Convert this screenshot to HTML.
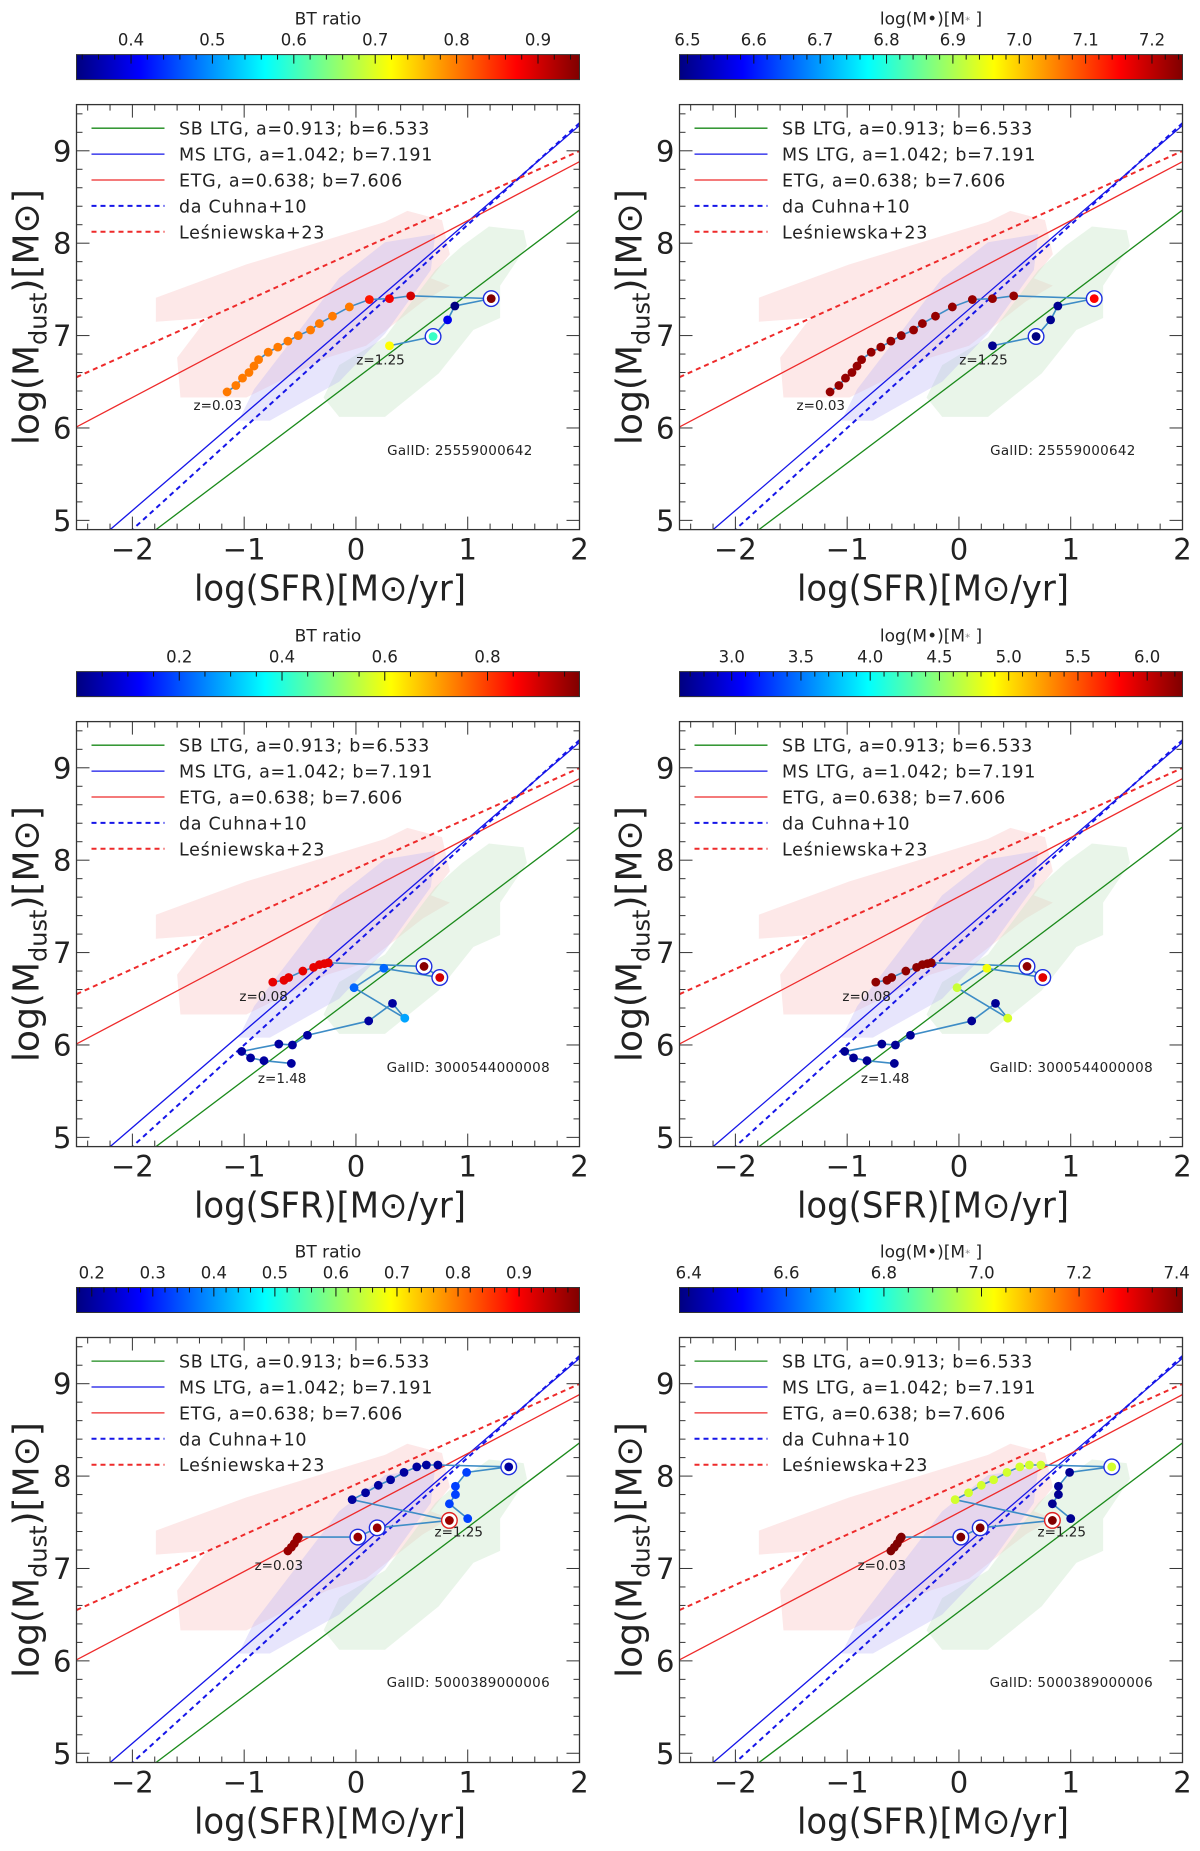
<!DOCTYPE html>
<html><head><meta charset="utf-8"><style>
html,body{margin:0;padding:0;background:#fff;}
svg text{font-family:"DejaVu Sans","Liberation Sans",sans-serif;fill:#222;}
</style></head><body>
<svg id="fig" xmlns="http://www.w3.org/2000/svg" width="1200" height="1846" viewBox="0 0 1200 1846"></svg>
<script>
// ---- data ----
const xTicks = [-2, -1, 0, 1, 2];
const yTicks = [5, 6, 7, 8, 9];
const fitA = [0.913, 1.042, 0.638];
const fitB = [6.533, 7.191, 7.606];
const fitNames = ["SB LTG, a=0.913; b=6.533", "MS LTG, a=1.042; b=7.191", "ETG, a=0.638; b=7.606", "da Cuhna+10", "Leśniewska+23"];
const litA = [1.1, 0.544];
const litB = [7.1, 7.91];

const sfr1 = [-1.153,-1.074,-1.015,-0.957,-0.912,-0.871,-0.785,-0.699,-0.609,-0.516,-0.406,-0.327,-0.21,-0.059,0.12,0.30,0.49,1.21,0.885,0.82,0.69,0.30];
const md1 = [6.39,6.46,6.54,6.60,6.67,6.74,6.82,6.875,6.94,7.0,7.06,7.13,7.21,7.31,7.39,7.40,7.43,7.40,7.32,7.17,6.99,6.89];
const bt1 = [0.8,0.8,0.8,0.8,0.8,0.8,0.8,0.8,0.8,0.8,0.8,0.8,0.8,0.8,0.86,0.88,0.9,0.95,0.33,0.4,0.6,0.72];
const bh1 = [7.23,7.23,7.23,7.23,7.23,7.23,7.23,7.23,7.23,7.23,7.23,7.23,7.23,7.23,7.23,7.23,7.23,7.15,6.5,6.5,6.49,6.5];
const ring1 = [17, 20];
const ringCol1 = ["#1f2fe0", "#1f2fe0"];

const sfr2 = [-0.744,-0.644,-0.602,-0.475,-0.379,-0.327,-0.282,-0.248,0.609,0.75,0.25,-0.017,0.437,0.327,0.114,-0.434,-0.568,-0.69,-1.022,-0.943,-0.823,-0.578];
const md2 = [6.68,6.70,6.73,6.80,6.84,6.87,6.88,6.89,6.85,6.73,6.83,6.62,6.29,6.45,6.26,6.105,6.0,6.01,5.93,5.86,5.83,5.80];
const bt2 = [0.88,0.88,0.88,0.88,0.88,0.88,0.88,0.88,0.97,0.9,0.22,0.22,0.28,0.03,0.03,0.03,0.03,0.03,0.03,0.03,0.03,0.03];
const bh2 = [6.2,6.2,6.2,6.2,6.2,6.2,6.2,6.2,6.2,5.9,4.85,4.7,4.75,2.7,2.7,2.7,2.7,2.7,2.7,2.7,2.7,2.7];
const ring2 = [8, 9];
const ringCol2 = ["#1f2fe0", "#1f2fe0"];

const sfr3 = [-0.609,-0.578,-0.551,-0.527,-0.516,0.017,0.19,0.836,-0.034,0.086,0.2,0.31,0.43,0.544,0.63,0.733,1.367,0.99,0.89,0.89,0.836,1.0];
const md3 = [7.19,7.23,7.27,7.32,7.34,7.34,7.44,7.52,7.745,7.82,7.90,7.96,8.04,8.10,8.12,8.12,8.10,8.04,7.89,7.80,7.70,7.54];
const bt3 = [0.98,0.98,0.98,0.98,0.98,0.98,0.98,0.98,0.2,0.2,0.2,0.2,0.2,0.2,0.2,0.2,0.2,0.33,0.33,0.33,0.33,0.33];
const bh3 = [7.41,7.41,7.41,7.41,7.41,7.41,7.41,7.41,6.98,6.98,6.98,6.98,6.98,6.98,6.98,6.98,6.98,6.4,6.4,6.4,6.4,6.4];
const ring3 = [5, 6, 7, 16];
const ringCol3 = ["#1f2fe0", "#1f2fe0", "#e02020", "#1f2fe0"];

const cbTicksBT1 = [0.4,0.5,0.6,0.7,0.8,0.9];
const cbTicksBH1 = [6.5,6.6,6.7,6.8,6.9,7.0,7.1,7.2];
const cbTicksBT2 = [0.2,0.4,0.6,0.8];
const cbTicksBH2 = [3.0,3.5,4.0,4.5,5.0,5.5,6.0];
const cbTicksBT3 = [0.2,0.3,0.4,0.5,0.6,0.7,0.8,0.9];
const cbTicksBH3 = [6.4,6.6,6.8,7.0,7.2,7.4];

// contour regions (data coords)
const pinkX = [-1.79,-0.98,0.26,0.46,0.77,0.84,0.67,0.84,0.6,0.09,-0.26,-0.98,-1.57,-1.6,-1.33,-1.79];
const pinkY = [7.41,7.77,8.23,8.35,8.25,7.88,7.62,7.54,7.37,6.89,6.76,6.33,6.33,6.76,7.19,7.15];
const blueX = [0.71,0.67,0.26,-0.15,-0.77,-1.05,-0.91,-0.53,-0.15,0.26];
const blueY = [8.1,7.71,7.02,6.5,6.08,6.08,6.42,7.02,7.62,8.01];
const greenX = [1.19,1.5,1.53,1.29,1.29,1.05,0.74,0.26,-0.15,-0.29,-0.15,0.26,0.71,0.95];
const greenY = [8.18,8.14,7.97,7.54,7.19,7.06,6.59,6.12,6.12,6.33,6.68,6.98,7.71,7.97];

// ---- drawing ----
const NS = "http://www.w3.org/2000/svg";
const svg = document.getElementById("fig");
function mk(tag, attrs, parent) {
  const e = document.createElementNS(NS, tag);
  for (const k in attrs) e.setAttribute(k, attrs[k]);
  (parent || svg).appendChild(e);
  return e;
}
function jet(t) {
  t = Math.max(0, Math.min(1, t));
  const c = v => Math.round(255 * Math.max(0, Math.min(1, v)));
  return "rgb(" + c(1.5 - Math.abs(4*t - 3)) + "," + c(1.5 - Math.abs(4*t - 2)) + "," + c(1.5 - Math.abs(4*t - 1)) + ")";
}
const XMIN = -2.5, XMAX = 2, YMIN = 4.9, YMAX = 9.5, PW = 503, PH = 425;

function panel(id, L, T, sfr, md, col, cmin, cmax, cbTicks, cbMinorDiv, cbLabel, rings, ringCols, galid, zLabels, isBH) {
  const g = mk("g", {});
  
  
  const sx = v => L + (v - XMIN) / (XMAX - XMIN) * PW;
  const sy = v => T + PH - (v - YMIN) / (YMAX - YMIN) * PH;
  const cs = v => (v - cmin) / (cmax - cmin);

  // colorbar
  const cbT = T - 50, cbH = 25;
  const gradId = id + "-grad";
  const defs = mk("defs", {}, g);
  const lg = mk("linearGradient", {id: gradId, x1: "0", x2: "1", y1: "0", y2: "0"}, defs);
  for (let i = 0; i <= 16; i++) mk("stop", {offset: (i/16), "stop-color": jet(i/16)}, lg);
  const cb = mk("rect", {x: L, y: cbT, width: PW, height: cbH, fill: "url(#" + gradId + ")", stroke: "#333", "stroke-width": 1}, g);
  
  
  const step = cbTicks[1] - cbTicks[0];
  const mstep = step / cbMinorDiv;
  for (let v = cbTicks[0] - Math.floor((cbTicks[0]-cmin)/mstep)*mstep; v <= cmax + 1e-9; v += mstep) {
    const x = L + cs(v) * PW;
    if (x < L + 1 || x > L + PW - 1) continue;
    const isMaj = cbTicks.some(t => Math.abs(t - v) < mstep/3);
    mk("line", {x1: x, x2: x, y1: cbT, y2: cbT + (isMaj ? 9 : 5), stroke: "#111", "stroke-width": 1}, g);
  }
  cbTicks.forEach(t => {
    const tx = mk("text", {x: L + cs(t) * PW, y: cbT - 9, "font-size": 16.5, "text-anchor": "middle", fill: "#333"}, g);
    tx.textContent = t.toFixed(1);
    
    
  });
  const cl = mk("text", {x: L + PW/2, y: cbT - 30, "font-size": 17, "text-anchor": "middle", fill: "#333"}, g);
  
  
  if (isBH) {
    cl.innerHTML = 'log(M•)[M<tspan font-size="10" fill="#888" dy="-1">*</tspan><tspan dy="1"> ]</tspan>';
  } else cl.textContent = cbLabel;

  // clip
  const cp = mk("clipPath", {id: id + "-clip"}, defs);
  mk("rect", {x: L, y: T, width: PW, height: PH}, cp);
  const pg = mk("g", {"clip-path": "url(#" + id + "-clip)"}, g);

  // contours
  function poly(xs, ys, fill, name) {
    const p = mk("polygon", {points: xs.map((x, i) => sx(x) + "," + sy(ys[i])).join(" "), fill: fill}, pg);
    
    
  }
  poly(pinkX, pinkY, "rgba(250,200,200,0.42)", "etg-contour");
  poly(greenX, greenY, "rgba(200,230,200,0.40)", "sb-contour");
  poly(blueX, blueY, "rgba(185,180,245,0.35)", "ms-contour");

  // fit lines
  const fitCols = ["#1a8a1a", "#1515e8", "#ee2a2a"];
  fitA.forEach((a, i) => {
    const l = mk("line", {x1: sx(XMIN), y1: sy(a*XMIN + fitB[i]), x2: sx(XMAX), y2: sy(a*XMAX + fitB[i]), stroke: fitCols[i], "stroke-width": 1.3}, pg);
    
    
  });
  const litCols = ["#1515e8", "#ee2a2a"];
  litA.forEach((a, i) => {
    const l = mk("line", {x1: sx(XMIN), y1: sy(a*XMIN + litB[i]), x2: sx(XMAX), y2: sy(a*XMAX + litB[i]), stroke: litCols[i], "stroke-width": 2, "stroke-dasharray": "5,4"}, pg);
    
    
  });

  // trajectory
  const tr = mk("polyline", {points: sfr.map((x, i) => sx(x) + "," + sy(md[i])).join(" "), fill: "none", stroke: "#3d8cc6", "stroke-width": 1.6}, pg);
  
  
  rings.forEach((k, j) => {
    const r = mk("circle", {cx: sx(sfr[k]), cy: sy(md[k]), r: 7.8, fill: "#fff", stroke: ringCols[j], "stroke-width": 1.4}, pg);
    
    
  });
  sfr.forEach((x, i) => {
    const c = mk("circle", {cx: sx(x), cy: sy(md[i]), r: 4.4, fill: jet(cs(col[i]))}, pg);
    
    
  });

  zLabels.forEach(z => {
    const t = mk("text", {x: sx(z[1]), y: sy(z[2]) + 5, "font-size": 13.5, "text-anchor": "middle", fill: "#444"}, pg);
    t.textContent = z[0];
    
    
  });
  const gt = mk("text", {x: sx(galid[1]), y: sy(galid[2]) + 5, "font-size": 13.5, "text-anchor": "middle", fill: "#444", "letter-spacing": 0.3}, pg);
  gt.textContent = galid[0];
  
  

  // legend
  const lcols = ["#1a8a1a", "#1515e8", "#ee2a2a", "#1515e8", "#ee2a2a"];
  fitNames.forEach((n, i) => {
    const y = T + 23.6 + i * 25.9;
    const ll = mk("line", {x1: L + 15, x2: L + 88, y1: y, y2: y, stroke: lcols[i], "stroke-width": i < 3 ? 1.3 : 2, "stroke-dasharray": i < 3 ? "none" : "5,4"}, g);
    
    
    const lt = mk("text", {x: L + 102.5, y: y + 6.5, "font-size": 17.5, fill: "#333", "letter-spacing": 0.7}, g);
    lt.textContent = n;
    
    
  });

  // frame & ticks
  const fr = mk("rect", {x: L, y: T, width: PW, height: PH, fill: "none", stroke: "#333", "stroke-width": 1.3}, g);
  
  
  for (let k = -12; k <= 10; k++) {
    const v = k * 0.2, x = sx(v);
    if (v < XMIN - 1e-9 || v > XMAX + 1e-9) continue;
    const maj = Math.abs(v - Math.round(v)) < 1e-6;
    const len = maj ? 13 : 6;
    mk("line", {x1: x, x2: x, y1: T + PH, y2: T + PH - len, stroke: "#333", "stroke-width": 1}, g);
    mk("line", {x1: x, x2: x, y1: T, y2: T + len, stroke: "#333", "stroke-width": 1}, g);
  }
  for (let k = 25; k <= 47; k++) {
    const v = k * 0.2, y = sy(v);
    if (v < YMIN - 1e-9 || v > YMAX + 1e-9) continue;
    const maj = Math.abs(v - Math.round(v)) < 1e-6;
    const len = maj ? 13 : 6;
    mk("line", {x1: L, x2: L + len, y1: y, y2: y, stroke: "#333", "stroke-width": 1}, g);
    mk("line", {x1: L + PW, x2: L + PW - len, y1: y, y2: y, stroke: "#333", "stroke-width": 1}, g);
  }
  xTicks.forEach(v => {
    const t = mk("text", {x: sx(v), y: T + PH + 30, "font-size": 29, "text-anchor": "middle"}, g);
    t.textContent = v < 0 ? "\u2212" + Math.abs(v) : String(v);
    
    
  });
  yTicks.forEach(v => {
    const t = mk("text", {x: L - 5, y: sy(v) + 10.5, "font-size": 29, "text-anchor": "end"}, g);
    t.textContent = String(v);
    
    
  });
  const xt = mk("text", {x: L + PW/2 + 2, y: T + PH + 71, "font-size": 36, "text-anchor": "middle", textLength: 272, lengthAdjust: "spacingAndGlyphs"}, g);
  xt.textContent = "log(SFR)[M\u2299/yr]";
  
  
  const yt = mk("text", {x: 0, y: 0, "font-size": 36, "text-anchor": "middle", transform: "translate(" + (L - 38) + "," + (T + PH/2) + ") rotate(-90)"}, g);
  yt.innerHTML = 'log(M<tspan font-size="24" dy="8">dust</tspan><tspan dy="-8">)[M\u2299]</tspan>';
  
  
}

const LL = 76.5, LR = 679.5;
const T1 = 104.6, T2 = 721.6, T3 = 1337.5;
const z1 = [["z=0.03", -1.236, 6.25], ["z=1.25", 0.22, 6.74]];
const z2 = [["z=0.08", -0.826, 6.53], ["z=1.48", -0.66, 5.645]];
const z3 = [["z=0.03", -0.69, 7.04], ["z=1.25", 0.92, 7.40]];
panel("panel-bt-1", LL, T1, sfr1, md1, bt1, 0.333, 0.951, cbTicksBT1, 5, "BT ratio", ring1, ringCol1, ["GalID: 25559000642", 0.93, 5.76], z1, false);
panel("panel-bh-1", LR, T1, sfr1, md1, bh1, 6.488, 7.246, cbTicksBH1, 5, "", ring1, ringCol1, ["GalID: 25559000642", 0.93, 5.76], z1, true);
panel("panel-bt-2", LL, T2, sfr2, md2, bt2, 0.0, 0.979, cbTicksBT2, 4, "BT ratio", ring2, ringCol2, ["GalID: 3000544000008", 1.005, 5.76], z2, false);
panel("panel-bh-2", LR, T2, sfr2, md2, bh2, 2.623, 6.255, cbTicksBH2, 5, "", ring2, ringCol2, ["GalID: 3000544000008", 1.005, 5.76], z2, true);
panel("panel-bt-3", LL, T3, sfr3, md3, bt3, 0.175, 0.999, cbTicksBT3, 5, "BT ratio", ring3, ringCol3, ["GalID: 5000389000006", 1.005, 5.77], z3, false);
panel("panel-bh-3", LR, T3, sfr3, md3, bh3, 6.381, 7.412, cbTicksBH3, 4, "", ring3, ringCol3, ["GalID: 5000389000006", 1.005, 5.77], z3, true);
</script>
</body></html>
